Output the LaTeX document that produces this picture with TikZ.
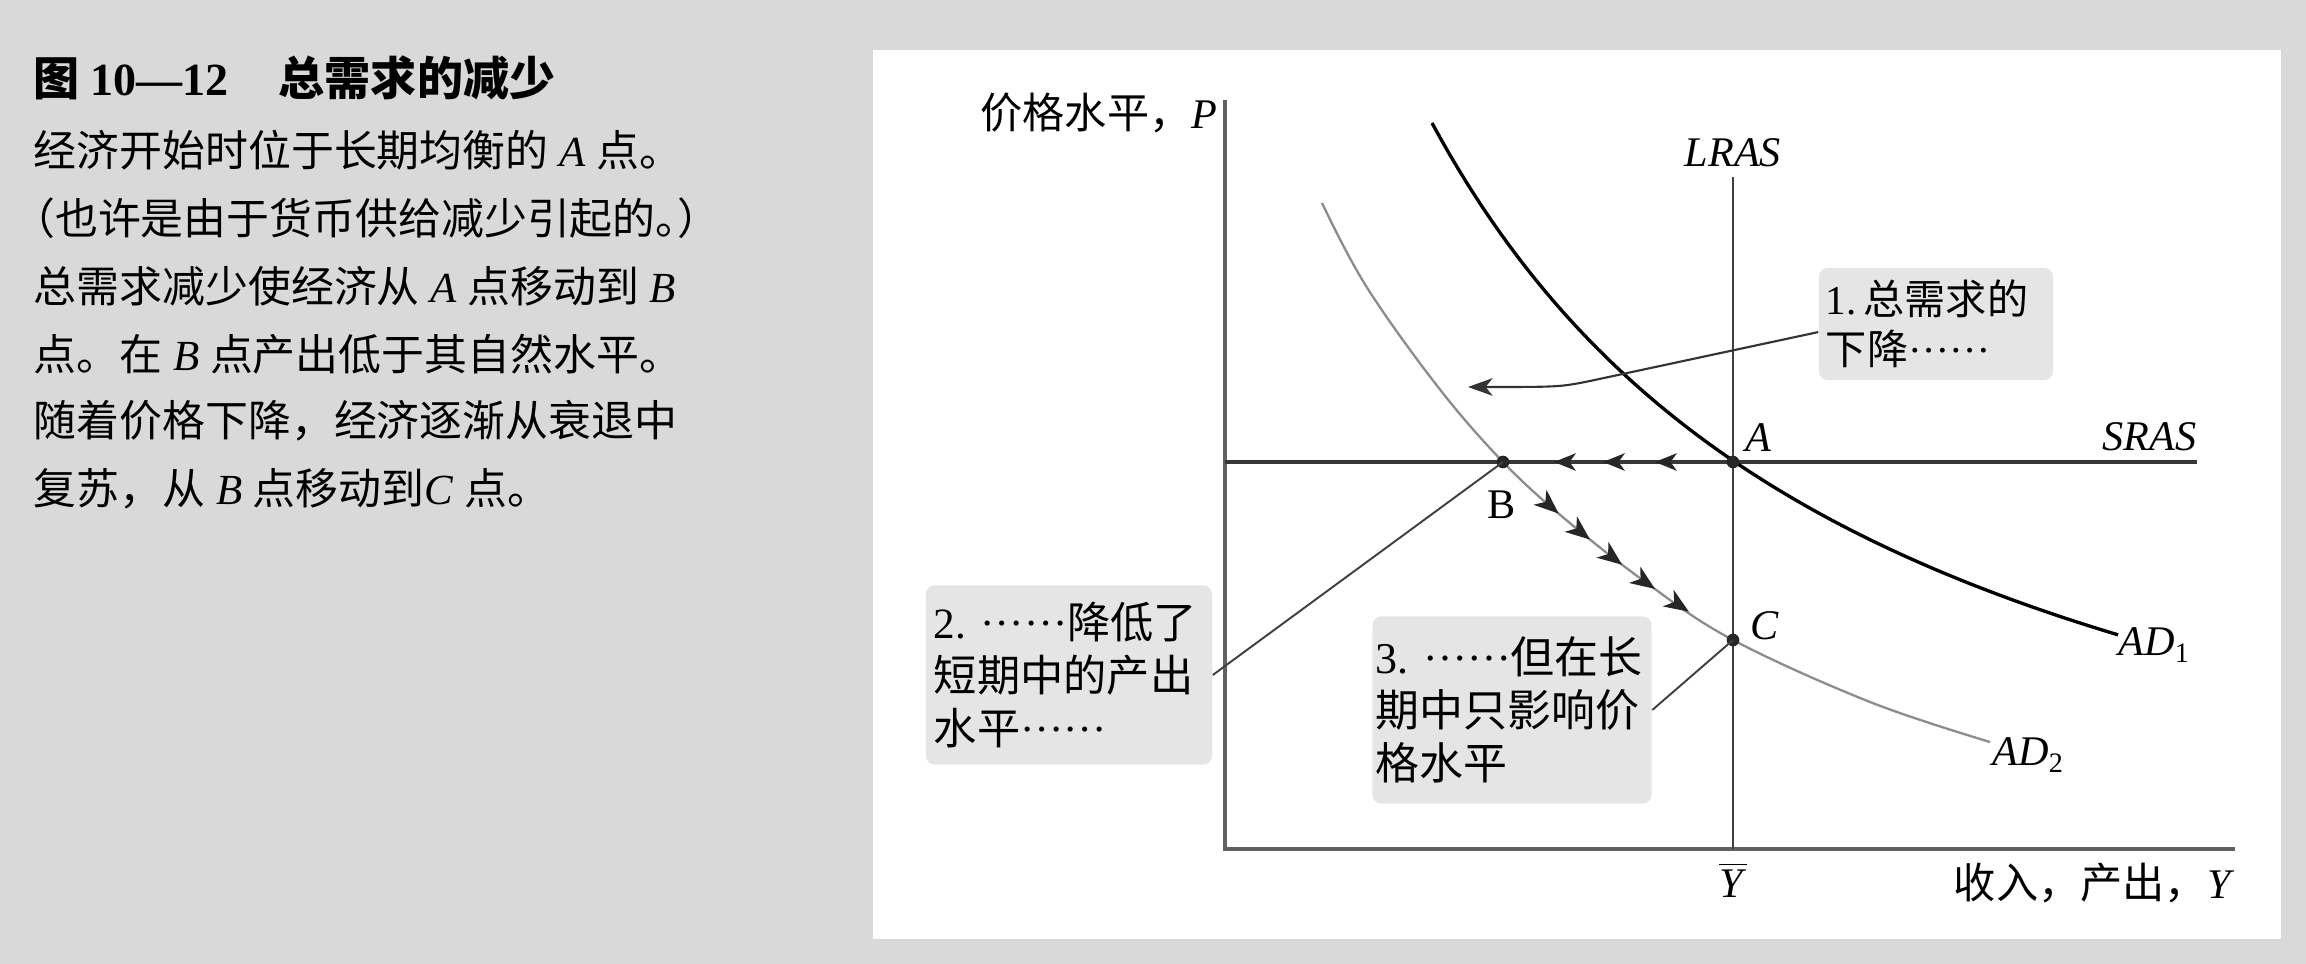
\documentclass[tikz,border=0pt]{standalone}
\usepackage{fontspec}
\setmainfont{Liberation Serif}
\newfontfamily\cjk{Noto Sans CJK SC}
\usetikzlibrary{arrows.meta,decorations.markings}
\definecolor{bggray}{RGB}{217,217,217}
\definecolor{boxgray}{RGB}{229,229,229}
\newcommand\zhs[1]{{\cjk #1}}
\newcommand\zhhalt[1]{{\cjk\addfontfeature{RawFeature=+halt}#1}}
\newcommand\dotsz{\raisebox{0.3em}{……}}
\tikzset{tipL/.tip={Stealth[length=6.2pt,width=5pt,inset=1.8pt]},
         tipD/.tip={Stealth[length=7pt,width=5.6pt,inset=2pt]}}
\begin{document}
\begin{tikzpicture}[x=0.01cm,y=-0.01cm,
  body/.style={anchor=west, inner sep=0pt, font=\fontsize{12.2pt}{14pt}\selectfont},
  ttlstyle/.style={anchor=west, inner sep=0pt, font=\fontsize{13.1pt}{15pt}\selectfont},
  lab/.style={inner sep=0pt, font=\fontsize{12pt}{14pt}\selectfont},
  callout/.style={fill=boxgray, rounded corners=2.5pt, inner ysep=0pt, align=left},
  dotstyle/.style={circle, fill=black!85, inner sep=0pt, minimum size=3.6pt},
  axisline/.style={draw=black!62, line width=0.9pt},
  lrasline/.style={draw=black!75, line width=0.75pt},
  srasline/.style={draw=black!78, line width=0.95pt},
  adone/.style={draw=black, line width=0.95pt},
  adtwo/.style={draw=black!45, line width=0.65pt},
  conn/.style={draw=black!75, line width=0.55pt},
  arrone/.style={draw=black!80, line width=0.6pt, -{Stealth[length=7pt,width=5pt,inset=2pt]}},
]
\useasboundingbox (0,0) rectangle (2306,964);
\fill[bggray] (0,0) rectangle (2306,964);
\fill[white] (873,50) rectangle (2281,939);

% left caption text
\node[ttlstyle] (ttl) at (33,78) {\zhs{\bfseries 图}\hspace{3.1pt}\textbf{10—12}\hspace{14.2pt}\zhs{\bfseries 总需求的减少}};
\node[body] (t1) at (33,150) {\zhs{经济开始时位于长期均衡的} \textit{A} \zhs{点。}};
\node[body] (t2) at (33,218) {\zhhalt{（}\zhs{也许是由于货币供给减少引起的}\zhhalt{。）}};
\node[body] (t3) at (33,286) {\zhs{总需求减少使经济从} \textit{A} \zhs{点移动到} \textit{B}};
\node[body] (t4) at (33,354) {\zhs{点。在} \textit{B} \zhs{点产出低于其自然水平。}};
\node[body] (t5) at (33,421) {\zhs{随着价格下降，经济逐渐从衰退中}};
\node[body] (t6) at (33,489) {\zhs{复苏，从} \textit{B} \zhs{点移动到}\textit{C} \zhs{点。}};

% axes
\coordinate (O) at (1225,849);
\draw[axisline] (1225,100) -- (O) -- (2235,849);
\node[lab, anchor=east] (ylab) at (1218,113) {\zhs{价格水平，}\textit{P}};
\node[lab, anchor=east] (xlab) at (2235,883) {\zhs{收入，产出，}\textit{Y}};
\node[lab] (ybar) at (1733,880) {$\overline{\mbox{\textit{Y}}}$};

% LRAS and SRAS
\draw[lrasline] (1733,177) -- (1733,849);
\node[lab] (lLRAS) at (1733,153) {\textit{LRAS}};
\draw[srasline] (1225,462) -- (2197,462);
\node[lab, anchor=east] (lSRAS) at (2197,437) {\textit{SRAS}};

% demand curves
\draw[adone] plot[domain=1432:2118, samples=80] (\x, {980.7 - 3976.2/(\x/100 - 9.684)});
\draw[adtwo] plot[smooth, tension=0.6] coordinates {(1322,203) (1366,286) (1438,387) (1503,462) (1565,519) (1648,584) (1733,640) (1870,702) (1990,742)};
\node[lab, anchor=west] (lAD1) at (2118,645) {\textit{AD}\textsubscript{1}};
\node[lab, anchor=west] (lAD2) at (1992,755) {\textit{AD}\textsubscript{2}};

% arrows along SRAS (A to B)
\path[decoration={markings,
   mark=at position 0.339 with {\arrow[black!85]{tipL}},
   mark=at position 0.565 with {\arrow[black!85]{tipL}},
   mark=at position 0.778 with {\arrow[black!85]{tipL}}}, decorate]
   (1733,462) -- (1503,462);
% arrows along AD2 (B to C)
\path[decoration={markings,
   mark=at position 0.26 with {\arrow[black!85]{tipD}},
   mark=at position 0.40 with {\arrow[black!85]{tipD}},
   mark=at position 0.54 with {\arrow[black!85]{tipD}},
   mark=at position 0.68 with {\arrow[black!85]{tipD}},
   mark=at position 0.82 with {\arrow[black!85]{tipD}}}, decorate]
   plot[smooth, tension=0.6] coordinates {(1503,462) (1565,519) (1648,584) (1733,640)};

% equilibrium points
\node[dotstyle] (A) at (1733,462) {};
\node[dotstyle] (B) at (1503,462) {};
\node[dotstyle] (C) at (1733,640) {};
\node[lab] (lA) at (1758,438) {\textit{A}};
\node[lab] (lB) at (1502,505) {B};
\node[lab] (lC) at (1765,626) {\textit{C}};

% callouts
\node[callout, minimum width=2.34cm, minimum height=1.12cm, inner xsep=0.07cm, text width=2.20cm,
      font=\fontsize{11.7pt}{14.2pt}\selectfont] (n1) at (1936,324)
      {1.\,\zhs{总需求的}\\\zhs{下降}\dotsz};
\node[callout, minimum width=2.86cm, minimum height=1.79cm, inner xsep=0.08cm, text width=2.70cm,
      font=\fontsize{12.3pt}{15.1pt}\selectfont] (n2) at (1069,675)
      {2.~\dotsz\zhs{降低了}\\\zhs{短期中的产出}\\\zhs{水平}\dotsz};
\node[callout, minimum width=2.79cm, minimum height=1.87cm, inner xsep=0.03cm, text width=2.73cm,
      font=\fontsize{12.5pt}{15.1pt}\selectfont] (n3) at (1512,710)
      {3.~\dotsz\zhs{但在长}\\\zhs{期中只影响价}\\\zhs{格水平}};

% connectors
\coordinate (k1) at (1590,381);
\coordinate (k2) at (1560,387);
\coordinate (tip1) at (1468,387);
\draw[arrone] ([yshift=-2.3pt]n1.west) -- (k1) .. controls (k2) .. (tip1);
\draw[conn] (n2.east) -- (B.center);
\draw[conn] (n3.east) -- (C.center);
\end{tikzpicture}
\end{document}
